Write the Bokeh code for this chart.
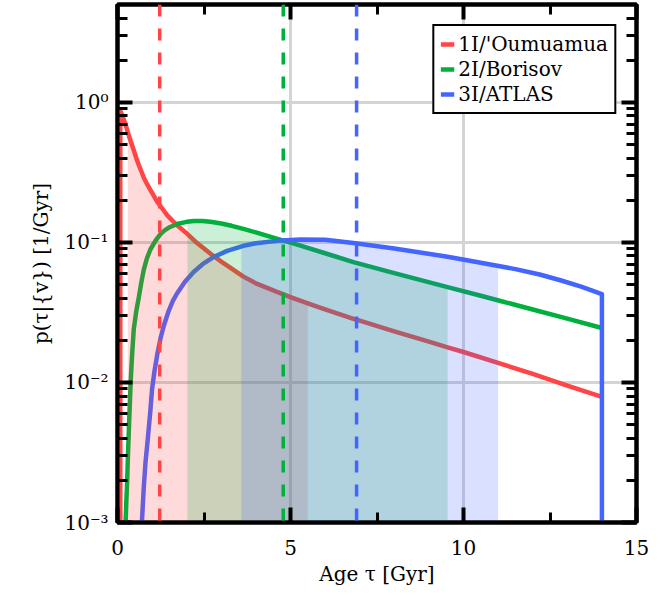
import numpy as np
from bokeh.plotting import figure
from bokeh.models import (FixedTicker, LinearAxis, LogAxis, CustomJSTickFormatter,
                          Legend, LegendItem, Span)
from bokeh.embed import file_html
from bokeh.resources import INLINE

# ---------------- data ----------------
names = ["1I/'Oumuamua", "2I/Borisov", "3I/ATLAS"]
colors = ["#FF4545", "#00B03C", "#4466FF"]

red_x = [0.08, 0.08, 0.1, 0.15, 0.23, 0.3, 0.38, 0.47, 0.55, 0.62, 0.7, 0.76, 0.85, 0.95,
         1.05, 1.15, 1.3, 1.44, 1.6, 1.75, 2.0, 2.3, 2.69, 3.0, 3.3, 3.64, 4.0, 4.61, 5.0,
         5.58, 6.0, 6.82, 7.0, 8.0, 9.0, 9.54, 10.0, 11.0, 12.0, 13.0, 14.0]
red_y = [0.0005, 0.86, 0.85, 0.79, 0.70, 0.61, 0.53, 0.455, 0.395, 0.355, 0.317, 0.29,
         0.262, 0.237, 0.215, 0.195, 0.174, 0.156, 0.142, 0.131, 0.116, 0.099, 0.083,
         0.073, 0.065, 0.057, 0.051, 0.0443, 0.0407, 0.0361, 0.0332, 0.0285, 0.0276,
         0.0232, 0.0196, 0.0178, 0.0165, 0.0138, 0.0115, 0.0095, 0.0079]

green_x = [0.22, 0.25, 0.28, 0.3, 0.33, 0.36, 0.38, 0.42, 0.47, 0.54, 0.62, 0.69, 0.76,
           0.85, 0.95, 1.1, 1.24, 1.37, 1.5, 1.75, 2.0, 2.2, 2.45, 2.69, 3.0, 3.3, 3.64,
           4.0, 4.6, 5.0, 5.29, 6.0, 6.82, 8.0, 9.54, 10.5, 11.07, 12.0, 13.0, 14.0]
green_y = [0.0008, 0.0013, 0.002, 0.0029, 0.0047, 0.0074, 0.01, 0.0155, 0.024, 0.032,
           0.041, 0.052, 0.064, 0.077, 0.089, 0.103, 0.1146, 0.1223, 0.1283, 0.136,
           0.1403, 0.142, 0.142, 0.1405, 0.1365, 0.1314, 0.1249, 0.1178, 0.1066, 0.0996,
           0.0948, 0.0837, 0.0724, 0.0604, 0.048, 0.0416, 0.0382, 0.0332, 0.0286, 0.0245]

blue_x = [0.65, 0.7, 0.76, 0.81, 0.86, 0.91, 0.95, 1.0, 1.07, 1.15, 1.25, 1.34, 1.48,
          1.6, 1.72, 1.95, 2.2, 2.45, 2.75, 3.17, 3.64, 4.0, 4.61, 5.29, 6.0, 6.82, 8.0,
          9.54, 10.5, 11.5, 12.2, 12.8, 13.4, 14.0, 14.0]
blue_y = [0.0005, 0.00095, 0.0018, 0.0027, 0.0036, 0.0049, 0.0063, 0.009, 0.0121, 0.0159,
          0.021, 0.0255, 0.0325, 0.0382, 0.0432, 0.0523, 0.0615, 0.0696, 0.078, 0.087,
          0.0946, 0.0986, 0.1026, 0.105, 0.1045, 0.099, 0.0905, 0.079, 0.0715, 0.0645,
          0.059, 0.0537, 0.0483, 0.0428, 0.0005]

# shaded intervals and medians (Gyr)
interval_lo = [0.3, 2.02, 3.58]
interval_hi = [5.5, 9.54, 11.0]
medians = [1.22, 4.79, 6.91]

x_tick_values = [0, 5, 10, 15]
x_minor_values = [2.5, 7.5, 12.5]
y_tick_values = [0.001, 0.01, 0.1, 1.0]
y_tick_labels = ["10\u207b\u00b3", "10\u207b\u00b2", "10\u207b\u00b9", "10\u2070"]
y_minor_values = [m * d for d in [0.001, 0.01, 0.1] for m in range(2, 10)] + [2.0, 3.0, 4.0]

series_x = [red_x, green_x, blue_x]
series_y = [red_y, green_y, blue_y]

FONT = "DejaVu Serif"

p = figure(frame_width=519, frame_height=518, x_range=(0, 15), y_range=(1e-3, 5),
           y_axis_type="log", output_backend="svg", toolbar_location=None,
           min_border_left=117, min_border_right=16, min_border_top=4, min_border_bottom=5,
           background_fill_color="white", border_fill_color="white")

bottom = p.below[0]
left = p.left[0]

xticker = FixedTicker(ticks=x_tick_values, minor_ticks=x_minor_values)
yticker = FixedTicker(ticks=y_tick_values, minor_ticks=y_minor_values)

bottom.ticker = xticker
left.ticker = yticker
p.xgrid.ticker = xticker
p.ygrid.ticker = yticker
left.major_label_overrides = dict(zip(y_tick_values, y_tick_labels))

for g in (p.xgrid, p.ygrid):
    g.grid_line_color = "#d4d4d4"
    g.grid_line_width = 3

p.outline_line_color = "black"
p.outline_line_width = 4

top = LinearAxis(ticker=xticker, formatter=CustomJSTickFormatter(code="return ''"))
right = LogAxis(ticker=yticker, formatter=CustomJSTickFormatter(code="return ''"))
p.add_layout(top, "above")
p.add_layout(right, "right")

for ax in [bottom, left, top, right]:
    ax.axis_line_width = 4
    ax.axis_line_color = "black"
    ax.major_tick_in = 15
    ax.major_tick_out = 0
    ax.minor_tick_in = 10
    ax.minor_tick_out = 0
    ax.major_tick_line_width = 4
    ax.minor_tick_line_width = 3
    ax.major_tick_line_color = "black"
    ax.minor_tick_line_color = "black"
    ax.major_label_text_font = FONT
    ax.major_label_text_font_size = "20px"
    ax.major_label_text_color = "black"

for ax in [top, right]:
    ax.major_label_standoff = 0
    ax.major_label_text_font_size = "1px"

bottom.major_label_standoff = 17
left.major_label_standoff = 9
bottom.axis_label = "Age \u03c4 [Gyr]"
left.axis_label = "p(\u03c4|{v}) [1/Gyr]"
for ax in [bottom, left]:
    ax.axis_label_text_font = FONT
    ax.axis_label_text_font_size = "20px"
    ax.axis_label_text_font_style = "normal"
    ax.axis_label_text_color = "black"
bottom.axis_label_standoff = 4
left.axis_label_standoff = 8

# lines first
line_renderers = []
for xs, ys, c in zip(series_x, series_y, colors):
    r = p.line(xs, ys, line_color=c, line_width=4.5, line_join="round")
    line_renderers.append(r)

# shaded intervals drawn over the lines
for xs, ys, c, lo, hi in zip(series_x, series_y, colors, interval_lo, interval_hi):
    xa = np.array(xs, dtype=float)
    ya = np.array(ys, dtype=float)
    if xa[-1] == xa[-2]:
        xi, yi = xa[:-1], ya[:-1]
    elif xa[0] == xa[1]:
        xi, yi = xa[1:], ya[1:]
    else:
        xi, yi = xa, ya
    m = (xi > lo) & (xi < hi)
    ylo = 10 ** np.interp(lo, xi, np.log10(yi))
    yhi = 10 ** np.interp(hi, xi, np.log10(yi))
    fx = np.concatenate([[lo], xi[m], [hi]])
    fy = np.concatenate([[ylo], yi[m], [yhi]])
    p.varea(x=fx, y1=np.full_like(fx, 1e-6), y2=fy, fill_color=c, fill_alpha=0.2)

# medians
for mval, c in zip(medians, colors):
    p.add_layout(Span(location=mval, dimension="height", line_color=c,
                      line_width=3.5, line_dash="12 12"))

legend = Legend(items=[LegendItem(label=n, renderers=[r]) for n, r in zip(names, line_renderers)],
                location="top_right")
legend.margin = 20
legend.padding = 6
legend.spacing = 1
legend.glyph_width = 14
legend.glyph_height = 22
legend.label_height = 22
legend.label_standoff = 4
legend.label_text_font = FONT
legend.label_text_font_size = "20px"
legend.label_text_color = "black"
legend.border_line_color = "black"
legend.border_line_width = 2
legend.border_line_alpha = 1
legend.background_fill_color = "white"
legend.background_fill_alpha = 1
p.add_layout(legend)

open("out.html", "w").write(file_html(p, INLINE))
